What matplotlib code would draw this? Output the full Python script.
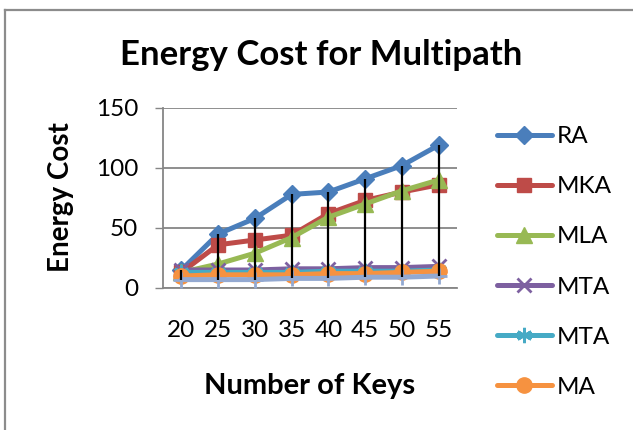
import matplotlib
matplotlib.use("Agg")
import matplotlib.pyplot as plt
import numpy as np

W, H, DPI = 633, 430, 100

keys = [20, 25, 30, 35, 40, 45, 50, 55]
ra = [15, 45, 58, 78, 80, 91, 102, 119]
mka = [13, 36, 40, 44, 62, 73, 80, 86]
mla = [13, 20, 29, 42, 59, 70, 81, 90]
mta_x = [15, 15, 15, 16, 16, 17, 17, 18]
mta_star = [13, 13, 13, 13, 14, 14, 14, 15]
ma = [10, 11, 11, 11, 12, 12, 13, 14]
extra = [7, 7, 7, 8, 8, 9, 9, 10]

series = [
    ("RA", ra, "#4A7EBB", "D", 9),
    ("MKA", mka, "#BE4B48", "s", 10.5),
    ("MLA", mla, "#98B954", "^", 11),
    ("MTA", mta_x, "#7D60A0", "x", 10),
    ("MTA", mta_star, "#46AAC5", (6, 2, 0), 11),
    ("MA", ma, "#F69240", "o", 11),
    ("_nolegend_", extra, "#93A9D1", "+", 11),
]

plt.rcParams["font.family"] = ["Lato", "DejaVu Sans"]

fig = plt.figure(figsize=(W / DPI, H / DPI), dpi=DPI)


def px(x, y):
    # pixel position from the top-left corner -> figure fraction
    return x / W, 1 - y / H


# outer chart frame, open at the right and bottom
fig.add_artist(plt.Line2D([5 / W, 5 / W], [0, 1 - 10 / H], transform=fig.transFigure,
                          color="#8C8C8C", lw=1.6))
fig.add_artist(plt.Line2D([5 / W, 1], [1 - 10 / H, 1 - 10 / H], transform=fig.transFigure,
                          color="#8C8C8C", lw=1.6))
fig.text(0, 1 + 13 / H, "network.", family="Liberation Serif", fontsize=14,
         va="baseline", ha="left", transform=fig.transFigure)

left, right, top, bottom = 163, 457, 108, 288
ax = fig.add_axes([left / W, 1 - bottom / H, (right - left) / W, (bottom - top) / H])

x = np.arange(len(keys))
for name, vals, col, mk, ms in series:
    ax.plot(x, vals, color=col, lw=3.6, marker=mk, ms=ms, mec=col, mfc=col,
            mew=2 if mk in ("x", "+") or isinstance(mk, tuple) else 1,
            label=name, solid_capstyle="round", zorder=3)

# high-low lines across all series
allv = np.array([s[1] for s in series])
ax.vlines(x, allv.min(axis=0), allv.max(axis=0), color="black", lw=1.6, zorder=5)

ax.set_xlim(-0.5, len(keys) - 0.5)
ax.set_ylim(0, 150)
ax.set_yticks([0, 50, 100, 150])
ax.set_xticks(x)
ax.set_xticklabels([str(k) for k in keys])
ax.grid(axis="y", color="#868686", lw=1.3)
ax.set_axisbelow(True)
for s in ("top", "right"):
    ax.spines[s].set_visible(False)
ax.spines["left"].set_color("#868686")
ax.spines["left"].set_linewidth(1.3)
ax.spines["bottom"].set_color("#868686")
ax.spines["bottom"].set_linewidth(1.3)
ax.tick_params(axis="y", length=5.8, width=1.0, color="#868686", pad=12, labelsize=17.5)
ax.tick_params(axis="x", length=0, pad=23, labelsize=17.5)

fig.text(*px(321, 55), "Energy Cost for Multipath", fontsize=25, weight="bold",
         ha="center", va="center")
fig.text(*px(61, 197), "Energy Cost", fontsize=20, weight="bold", rotation=90,
         ha="center", va="center")
fig.text(*px(310, 386), "Number of Keys", fontsize=21, weight="bold",
         ha="center", va="center")

leg = ax.legend(loc="upper left", bbox_to_anchor=px(497, 126), bbox_transform=fig.transFigure,
                frameon=False, fontsize=17.5, handlelength=2.25, handletextpad=0.2,
                labelspacing=1.2, borderpad=0, borderaxespad=0)

fig.savefig("out.png", dpi=DPI)
